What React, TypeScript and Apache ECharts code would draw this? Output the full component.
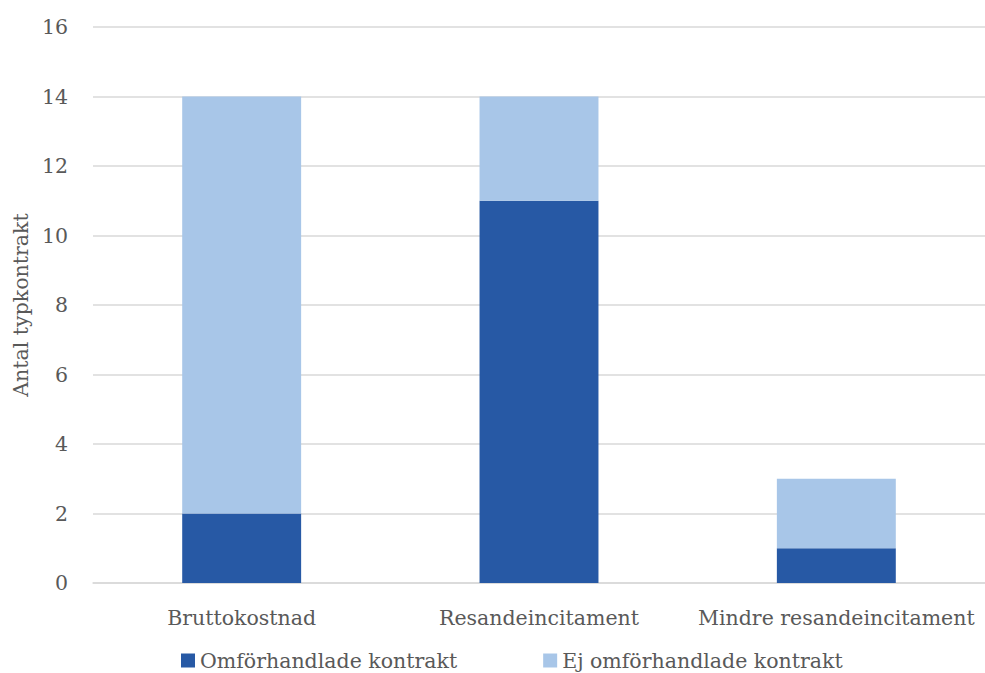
import React, { useEffect, useRef } from "react";
import * as echarts from "echarts";

const categories = ["Bruttokostnad", "Resandeincitament", "Mindre resandeincitament"];
const omforhandlade = [2, 11, 1];
const ejOmforhandlade = [12, 3, 2];
const seriesNames = ["Omförhandlade kontrakt", "Ej omförhandlade kontrakt"];
const yAxisName = "Antal typkontrakt";

const FONT = "DejaVu Serif";
const TEXT = "#595959";

export default function App() {
  const ref = useRef<HTMLDivElement>(null);
  useEffect(() => {
    document.body.style.margin = "0";
    const chart = echarts.init(ref.current!, null, { renderer: "svg" });
    chart.setOption({
      animation: false,
      backgroundColor: "#ffffff",
      textStyle: { fontFamily: FONT },
      grid: { left: 93, right: 0, top: 27, bottom: 90 },
      legend: {
        left: 176,
        top: 645,
        itemWidth: 14,
        itemHeight: 14,
        itemGap: 86,
        icon: "rect",
        textStyle: { fontFamily: FONT, fontSize: 20.5, color: TEXT, padding: [0, 0, 0, 0] },
        data: seriesNames,
      },
      xAxis: {
        type: "category",
        data: categories,
        axisLine: { lineStyle: { color: "#d9d9d9", width: 1.5 } },
        axisTick: { show: false },
        axisLabel: { fontFamily: FONT, fontSize: 20.5, color: TEXT, margin: 24, interval: 0 },
      },
      yAxis: {
        type: "value",
        min: 0,
        max: 16,
        interval: 2,
        name: yAxisName,
        nameLocation: "middle",
        nameGap: 62,
        nameTextStyle: { fontFamily: FONT, fontSize: 20.5, color: TEXT },
        axisLine: { show: false },
        axisTick: { show: false },
        axisLabel: { fontFamily: FONT, fontSize: 20.5, color: TEXT, margin: 25 },
        splitLine: { lineStyle: { color: "#d9d9d9", width: 1.5 } },
      },
      series: [
        {
          name: seriesNames[0],
          type: "bar",
          stack: "total",
          data: omforhandlade,
          barWidth: "40%",
          itemStyle: { color: "#2759a5" },
        },
        {
          name: seriesNames[1],
          type: "bar",
          stack: "total",
          data: ejOmforhandlade,
          barWidth: "40%",
          itemStyle: { color: "#a8c6e8" },
        },
      ],
    });
    return () => chart.dispose();
  }, []);
  return <div ref={ref} style={{ width: 985, height: 673 }} />;
}
